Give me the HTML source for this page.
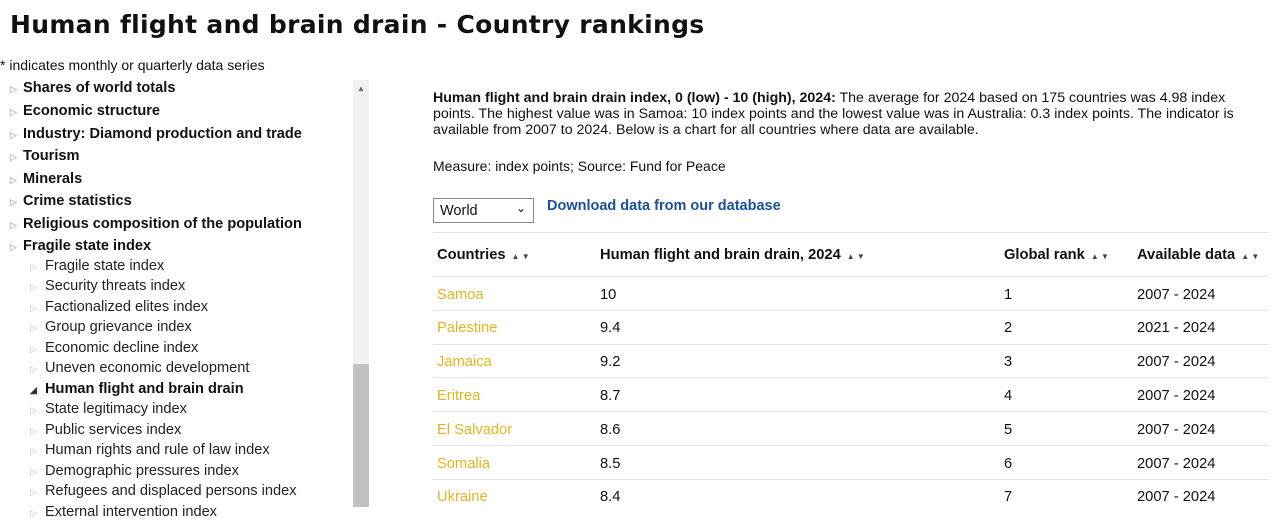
<!DOCTYPE html>
<html><head><style>
body{margin:0;width:1276px;height:507px;overflow:hidden;background:#fff;font-family:"Liberation Sans",Arial,sans-serif;color:#111;position:relative}
.a{position:absolute;white-space:nowrap}
h1{position:absolute;left:10px;top:10px;margin:0;font:bold 25px "DejaVu Sans",Verdana,sans-serif;letter-spacing:0.3px;color:#111}
.m{font-size:14.6px;font-weight:bold}
.s{font-size:14.6px;color:#222}
.t{color:#bbb;font-size:9px;display:inline-block;width:13px}
.s .t,.m2 .t{width:15px}
.p{left:433px;top:90px;width:830px;font-size:14.2px;line-height:16px;white-space:normal}
table{position:absolute;left:433px;top:232px;width:836px;border-collapse:separate;border-spacing:0;font-size:14.7px}
td,th{height:30.3px;border-top:1.5px solid #e4e4e4;text-align:left;padding:0 4px;font-weight:normal;vertical-align:middle}
th{font-weight:bold;height:43px;padding-top:0}
td{padding-top:2.5px}
td.c{color:#e0b520}
.ar{font-size:8px;color:#444;margin-left:6px}
</style></head><body>
<h1>Human flight and brain drain - Country rankings</h1>
<div class="a" style="left:0;top:57px;font-size:14px">* indicates monthly or quarterly data series</div>
<div class="a" style="left:353px;top:80px;width:16px;height:427px;background:#f1f1f1"></div>
<div class="a" style="left:353px;top:364px;width:16px;height:143px;background:#c1c1c1"></div>
<div class="a" style="left:357px;top:84px;font-size:8px;color:#666">▲</div>
<div class="a m" style="left:10px;top:80px"><span class="t">▷</span>Shares of world totals</div>
<div class="a m" style="left:10px;top:103px"><span class="t">▷</span>Economic structure</div>
<div class="a m" style="left:10px;top:126px"><span class="t">▷</span>Industry: Diamond production and trade</div>
<div class="a m" style="left:10px;top:148px"><span class="t">▷</span>Tourism</div>
<div class="a m" style="left:10px;top:171px"><span class="t">▷</span>Minerals</div>
<div class="a m" style="left:10px;top:193px"><span class="t">▷</span>Crime statistics</div>
<div class="a m" style="left:10px;top:216px"><span class="t">▷</span>Religious composition of the population</div>
<div class="a m" style="left:10px;top:238px"><span class="t">▷</span>Fragile state index</div>
<div class="a s" style="left:30px;top:258px"><span class="t">▷</span>Fragile state index</div>
<div class="a s" style="left:30px;top:278px"><span class="t">▷</span>Security threats index</div>
<div class="a s" style="left:30px;top:299px"><span class="t">▷</span>Factionalized elites index</div>
<div class="a s" style="left:30px;top:319px"><span class="t">▷</span>Group grievance index</div>
<div class="a s" style="left:30px;top:340px"><span class="t">▷</span>Economic decline index</div>
<div class="a s" style="left:30px;top:360px"><span class="t">▷</span>Uneven economic development</div>
<div class="a m m2" style="left:30px;top:381px"><span class="t" style="color:#333">◢</span>Human flight and brain drain</div>
<div class="a s" style="left:30px;top:401px"><span class="t">▷</span>State legitimacy index</div>
<div class="a s" style="left:30px;top:422px"><span class="t">▷</span>Public services index</div>
<div class="a s" style="left:30px;top:442px"><span class="t">▷</span>Human rights and rule of law index</div>
<div class="a s" style="left:30px;top:463px"><span class="t">▷</span>Demographic pressures index</div>
<div class="a s" style="left:30px;top:483px"><span class="t">▷</span>Refugees and displaced persons index</div>
<div class="a s" style="left:30px;top:504px"><span class="t">▷</span>External intervention index</div>
<div class="a p"><b>Human flight and brain drain index, 0 (low) - 10 (high), 2024:</b> The average for 2024 based on 175 countries was 4.98 index points. The highest value was in Samoa: 10 index points and the lowest value was in Australia: 0.3 index points. The indicator is available from 2007 to 2024. Below is a chart for all countries where data are available.</div>
<div class="a" style="left:433px;top:158px;font-size:14px">Measure: index points; Source: Fund for Peace</div>
<div class="a" style="left:433px;top:198px;width:101px;height:25px;border:1px solid #888;box-sizing:border-box;font-size:14.5px;padding:4px 0 0 6px">World<span style="position:absolute;right:7px;top:2px;font-size:12px">⌄</span></div>
<div class="a" style="left:547px;top:198px;font-size:14.5px;font-weight:bold;color:#1a4f9c">Download data from our database</div>
<table>
<tr><th style="width:155px">Countries<span class="ar">▲ ▼</span></th><th style="width:396px">Human flight and brain drain, 2024<span class="ar">▲ ▼</span></th><th style="width:125px">Global rank<span class="ar">▲ ▼</span></th><th>Available data<span class="ar">▲ ▼</span></th></tr>
<tr><td class="c">Samoa</td><td>10</td><td>1</td><td>2007 - 2024</td></tr>
<tr><td class="c">Palestine</td><td>9.4</td><td>2</td><td>2021 - 2024</td></tr>
<tr><td class="c">Jamaica</td><td>9.2</td><td>3</td><td>2007 - 2024</td></tr>
<tr><td class="c">Eritrea</td><td>8.7</td><td>4</td><td>2007 - 2024</td></tr>
<tr><td class="c">El Salvador</td><td>8.6</td><td>5</td><td>2007 - 2024</td></tr>
<tr><td class="c">Somalia</td><td>8.5</td><td>6</td><td>2007 - 2024</td></tr>
<tr><td class="c">Ukraine</td><td>8.4</td><td>7</td><td>2007 - 2024</td></tr>
</table>
</body></html>
